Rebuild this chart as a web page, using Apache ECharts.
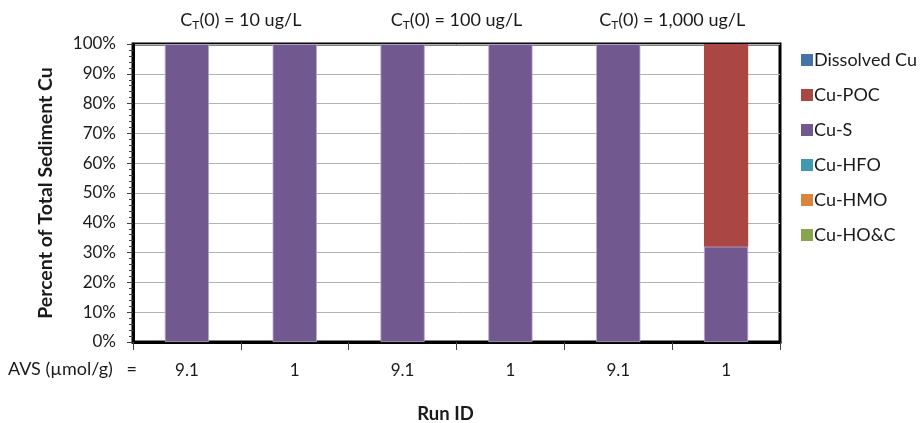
<!DOCTYPE html>
<html>
<head>
<meta charset="utf-8">
<script src="https://cdn.jsdelivr.net/npm/echarts@6/dist/echarts.min.js"></script>
<style>html,body{margin:0;padding:0;background:#fff}#c{width:924px;height:423px}</style>
</head>
<body>
<div id="c"></div>
<script>
var runLabels = ['9.1', '1', '9.1', '1', '9.1', '1'];
var groupLabels = ['10 ug/L', '100 ug/L', '1,000 ug/L'];
var yTicks = [0, 10, 20, 30, 40, 50, 60, 70, 80, 90, 100];
var seriesNames = ['Dissolved Cu', 'Cu-POC', 'Cu-S', 'Cu-HFO', 'Cu-HMO', 'Cu-HO&C'];
var dissolvedCu = [0, 0, 0, 0, 0, 0];
var cuPOC = [0, 0, 0, 0, 0, 68];
var cuS = [100, 100, 100, 100, 100, 32];
var cuHFO = [0, 0, 0, 0, 0, 0];
var cuHMO = [0, 0, 0, 0, 0, 0];
var cuHOC = [0, 0, 0, 0, 0, 0];

var colors = {
  'Dissolved Cu': '#4572A7',
  'Cu-POC': '#AA4643',
  'Cu-S': '#71588F',
  'Cu-HFO': '#4198AF',
  'Cu-HMO': '#DB843D',
  'Cu-HO&C': '#89A54E'
};
var dataByName = {
  'Dissolved Cu': dissolvedCu,
  'Cu-POC': cuPOC,
  'Cu-S': cuS,
  'Cu-HFO': cuHFO,
  'Cu-HMO': cuHMO,
  'Cu-HO&C': cuHOC
};
var FONT = 'Lato';
var FS = 17;
var TXT = '#1a1a1a';
var stackOrder = seriesNames.slice().reverse();
var series = stackOrder.map(function (n) {
  return {
    name: n,
    type: 'bar',
    stack: 'total',
    xAxisIndex: 0,
    yAxisIndex: 0,
    barWidth: '41%',
    data: dataByName[n],
    itemStyle: n === 'Cu-S'
      ? { color: colors[n], borderColor: '#b6a8c9', borderWidth: 0.8 }
      : { color: colors[n], borderWidth: 0 },
    emphasis: { disabled: true }
  };
});

var chart = echarts.init(document.getElementById('c'));
chart.setOption({
  animation: false,
  textStyle: { fontFamily: FONT },
  grid: {
    left: 133, right: 144, top: 44, bottom: 81,
    outerBoundsMode: 'none',
    containLabel: false,
    show: true, borderColor: '#000', borderWidth: 3, backgroundColor: 'transparent'
  },
  legend: {
    orient: 'vertical',
    left: 796, top: 46,
    itemWidth: 12, itemHeight: 12, itemGap: 17,
    icon: 'rect',
    data: seriesNames,
    itemStyle: { borderWidth: 0 },
    textStyle: { fontFamily: FONT, fontSize: 18, color: TXT, padding: [0, 0, 0, -4] }
  },
  xAxis: [{
    type: 'category',
    data: runLabels,
    position: 'bottom',
    axisLine: { show: true, lineStyle: { color: '#000', width: 3 } },
    axisTick: { show: true, length: 8, lineStyle: { color: '#404040', width: 1 } },
    axisLabel: { margin: 20, fontSize: FS, color: TXT, fontFamily: FONT, interval: 0 },
    name: 'Run ID',
    nameLocation: 'middle',
    nameGap: 63,
    nameTextStyle: { fontWeight: 'bold', fontSize: 18.5, color: TXT, fontFamily: FONT, padding: [0, 22, 0, 0] }
  }, {
    type: 'category',
    data: groupLabels,
    position: 'top',
    axisLine: { show: false },
    axisTick: { show: false },
    axisLabel: {
      margin: 13,
      interval: 0,
      hideOverlap: false,
      color: TXT,
      fontFamily: FONT,
      fontSize: 18,
      formatter: function (v) { return '{a|C}{sub|T}{a|(0) = ' + v + '}'; },
      rich: {
        a: { fontSize: 18, fontFamily: FONT, color: TXT },
        sub: { fontSize: 12, verticalAlign: 'bottom', padding: [10, 0, 0, 0], fontFamily: FONT, color: TXT }
      }
    }
  }],
  yAxis: {
    type: 'value',
    min: 0, max: 100, interval: 10,
    axisLine: { show: true, lineStyle: { color: '#000', width: 3 } },
    axisTick: { show: true, length: 6, inside: false, lineStyle: { color: '#404040', width: 1 } },
    minorTick: { show: true, splitNumber: 5, length: 4, lineStyle: { color: '#404040', width: 1 } },
    splitLine: { show: true, lineStyle: { color: '#b3b3b3', width: 1 } },
    axisLabel: {
      margin: 17, fontSize: FS, color: TXT, fontFamily: FONT,
      formatter: function (v) { return yTicks.indexOf(v) >= 0 ? v + '%' : ''; }
    },
    name: 'Percent of Total Sediment Cu',
    nameLocation: 'middle',
    nameGap: 77,
    nameTextStyle: { fontWeight: 'bold', fontSize: 19.5, color: TXT, fontFamily: FONT }
  },
  graphic: [{
    type: 'text',
    left: 8,
    top: 360,
    style: { text: 'AVS (µmol/g)   =', fontSize: 18, fill: TXT, fontFamily: FONT }
  }],
  series: series
});
</script>
</body>
</html>
